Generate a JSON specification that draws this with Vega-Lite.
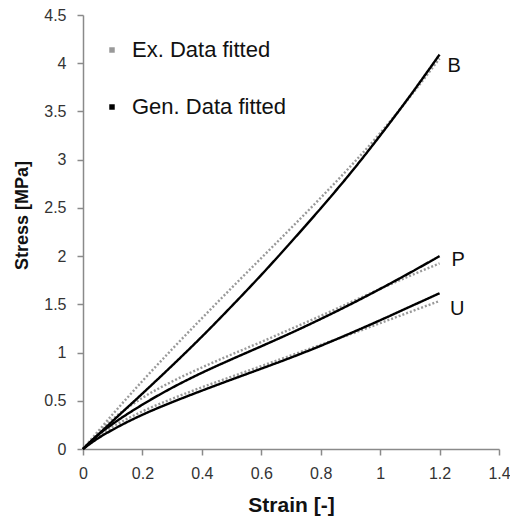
{
  "$schema": "https://vega.github.io/schema/vega-lite/v6.json",
  "width": 416,
  "height": 434,
  "autosize": {"type": "none"},
  "padding": {"left": 83, "top": 15, "right": 11, "bottom": 75},
  "background": "white",
  "config": {"view": {"stroke": null}, "font": "Liberation Sans"},
  "datasets": {
    "curves": [
      {"curve": "B", "type": "Ex. Data fitted", "x": 0, "y": 0},
      {"curve": "B", "type": "Ex. Data fitted", "x": 0.05, "y": 0.18},
      {"curve": "B", "type": "Ex. Data fitted", "x": 0.1, "y": 0.36},
      {"curve": "B", "type": "Ex. Data fitted", "x": 0.2, "y": 0.705},
      {"curve": "B", "type": "Ex. Data fitted", "x": 0.3, "y": 1.035},
      {"curve": "B", "type": "Ex. Data fitted", "x": 0.4, "y": 1.355},
      {"curve": "B", "type": "Ex. Data fitted", "x": 0.5, "y": 1.67},
      {"curve": "B", "type": "Ex. Data fitted", "x": 0.6, "y": 1.98},
      {"curve": "B", "type": "Ex. Data fitted", "x": 0.7, "y": 2.29},
      {"curve": "B", "type": "Ex. Data fitted", "x": 0.8, "y": 2.605},
      {"curve": "B", "type": "Ex. Data fitted", "x": 0.9, "y": 2.93},
      {"curve": "B", "type": "Ex. Data fitted", "x": 1.0, "y": 3.275},
      {"curve": "B", "type": "Ex. Data fitted", "x": 1.1, "y": 3.65},
      {"curve": "B", "type": "Ex. Data fitted", "x": 1.2, "y": 4.05},
      {"curve": "P", "type": "Ex. Data fitted", "x": 0, "y": 0},
      {"curve": "P", "type": "Ex. Data fitted", "x": 0.05, "y": 0.165},
      {"curve": "P", "type": "Ex. Data fitted", "x": 0.1, "y": 0.31},
      {"curve": "P", "type": "Ex. Data fitted", "x": 0.2, "y": 0.53},
      {"curve": "P", "type": "Ex. Data fitted", "x": 0.3, "y": 0.7},
      {"curve": "P", "type": "Ex. Data fitted", "x": 0.4, "y": 0.845},
      {"curve": "P", "type": "Ex. Data fitted", "x": 0.5, "y": 0.98},
      {"curve": "P", "type": "Ex. Data fitted", "x": 0.6, "y": 1.11},
      {"curve": "P", "type": "Ex. Data fitted", "x": 0.7, "y": 1.245},
      {"curve": "P", "type": "Ex. Data fitted", "x": 0.8, "y": 1.38},
      {"curve": "P", "type": "Ex. Data fitted", "x": 0.9, "y": 1.52},
      {"curve": "P", "type": "Ex. Data fitted", "x": 1.0, "y": 1.66},
      {"curve": "P", "type": "Ex. Data fitted", "x": 1.1, "y": 1.795},
      {"curve": "P", "type": "Ex. Data fitted", "x": 1.2, "y": 1.925},
      {"curve": "U", "type": "Ex. Data fitted", "x": 0, "y": 0},
      {"curve": "U", "type": "Ex. Data fitted", "x": 0.05, "y": 0.13},
      {"curve": "U", "type": "Ex. Data fitted", "x": 0.1, "y": 0.23},
      {"curve": "U", "type": "Ex. Data fitted", "x": 0.2, "y": 0.39},
      {"curve": "U", "type": "Ex. Data fitted", "x": 0.3, "y": 0.52},
      {"curve": "U", "type": "Ex. Data fitted", "x": 0.4, "y": 0.64},
      {"curve": "U", "type": "Ex. Data fitted", "x": 0.5, "y": 0.75},
      {"curve": "U", "type": "Ex. Data fitted", "x": 0.6, "y": 0.86},
      {"curve": "U", "type": "Ex. Data fitted", "x": 0.7, "y": 0.97},
      {"curve": "U", "type": "Ex. Data fitted", "x": 0.8, "y": 1.08},
      {"curve": "U", "type": "Ex. Data fitted", "x": 0.9, "y": 1.19},
      {"curve": "U", "type": "Ex. Data fitted", "x": 1.0, "y": 1.305},
      {"curve": "U", "type": "Ex. Data fitted", "x": 1.1, "y": 1.42},
      {"curve": "U", "type": "Ex. Data fitted", "x": 1.2, "y": 1.535},
      {"curve": "B", "type": "Gen. Data fitted", "x": 0, "y": 0},
      {"curve": "B", "type": "Gen. Data fitted", "x": 0.05, "y": 0.145},
      {"curve": "B", "type": "Gen. Data fitted", "x": 0.1, "y": 0.29},
      {"curve": "B", "type": "Gen. Data fitted", "x": 0.2, "y": 0.575},
      {"curve": "B", "type": "Gen. Data fitted", "x": 0.3, "y": 0.865},
      {"curve": "B", "type": "Gen. Data fitted", "x": 0.4, "y": 1.165},
      {"curve": "B", "type": "Gen. Data fitted", "x": 0.5, "y": 1.48},
      {"curve": "B", "type": "Gen. Data fitted", "x": 0.6, "y": 1.805},
      {"curve": "B", "type": "Gen. Data fitted", "x": 0.7, "y": 2.145},
      {"curve": "B", "type": "Gen. Data fitted", "x": 0.8, "y": 2.495},
      {"curve": "B", "type": "Gen. Data fitted", "x": 0.9, "y": 2.86},
      {"curve": "B", "type": "Gen. Data fitted", "x": 1.0, "y": 3.25},
      {"curve": "B", "type": "Gen. Data fitted", "x": 1.1, "y": 3.66},
      {"curve": "B", "type": "Gen. Data fitted", "x": 1.2, "y": 4.09},
      {"curve": "P", "type": "Gen. Data fitted", "x": 0, "y": 0},
      {"curve": "P", "type": "Gen. Data fitted", "x": 0.05, "y": 0.145},
      {"curve": "P", "type": "Gen. Data fitted", "x": 0.1, "y": 0.26},
      {"curve": "P", "type": "Gen. Data fitted", "x": 0.2, "y": 0.46},
      {"curve": "P", "type": "Gen. Data fitted", "x": 0.3, "y": 0.635},
      {"curve": "P", "type": "Gen. Data fitted", "x": 0.4, "y": 0.79},
      {"curve": "P", "type": "Gen. Data fitted", "x": 0.5, "y": 0.93},
      {"curve": "P", "type": "Gen. Data fitted", "x": 0.6, "y": 1.065},
      {"curve": "P", "type": "Gen. Data fitted", "x": 0.7, "y": 1.203},
      {"curve": "P", "type": "Gen. Data fitted", "x": 0.8, "y": 1.348},
      {"curve": "P", "type": "Gen. Data fitted", "x": 0.9, "y": 1.5},
      {"curve": "P", "type": "Gen. Data fitted", "x": 1.0, "y": 1.66},
      {"curve": "P", "type": "Gen. Data fitted", "x": 1.1, "y": 1.827},
      {"curve": "P", "type": "Gen. Data fitted", "x": 1.2, "y": 2.0},
      {"curve": "U", "type": "Gen. Data fitted", "x": 0, "y": 0},
      {"curve": "U", "type": "Gen. Data fitted", "x": 0.05, "y": 0.11},
      {"curve": "U", "type": "Gen. Data fitted", "x": 0.1, "y": 0.2},
      {"curve": "U", "type": "Gen. Data fitted", "x": 0.2, "y": 0.355},
      {"curve": "U", "type": "Gen. Data fitted", "x": 0.3, "y": 0.485},
      {"curve": "U", "type": "Gen. Data fitted", "x": 0.4, "y": 0.605},
      {"curve": "U", "type": "Gen. Data fitted", "x": 0.5, "y": 0.72},
      {"curve": "U", "type": "Gen. Data fitted", "x": 0.6, "y": 0.833},
      {"curve": "U", "type": "Gen. Data fitted", "x": 0.7, "y": 0.948},
      {"curve": "U", "type": "Gen. Data fitted", "x": 0.8, "y": 1.07},
      {"curve": "U", "type": "Gen. Data fitted", "x": 0.9, "y": 1.2},
      {"curve": "U", "type": "Gen. Data fitted", "x": 1.0, "y": 1.335},
      {"curve": "U", "type": "Gen. Data fitted", "x": 1.1, "y": 1.475},
      {"curve": "U", "type": "Gen. Data fitted", "x": 1.2, "y": 1.615}
    ],
    "labels": [
      {"label": "B", "x": 1.249, "y": 3.97},
      {"label": "P", "x": 1.263, "y": 1.96},
      {"label": "U", "x": 1.259, "y": 1.45}
    ]
  },
  "layer": [
    {
      "data": {"name": "curves"},
      "mark": {"type": "line", "interpolate": "monotone", "strokeWidth": 2.4},
      "encoding": {
        "x": {
          "field": "x", "type": "quantitative",
          "scale": {"domain": [0, 1.4], "nice": false},
          "axis": {
            "title": "Strain [-]", "values": [0, 0.2, 0.4, 0.6, 0.8, 1, 1.2, 1.4], "format": "~g",
            "grid": false, "labelFlush": false, "domainColor": "#8a8a8a", "domainWidth": 1.5, "tickColor": "#8a8a8a", "tickWidth": 1.5, "tickSize": 6,
            "labelFont": "Liberation Sans", "labelFontSize": 16, "labelColor": "#333333", "labelPadding": 10,
            "titleFont": "Liberation Sans", "titleFontSize": 21, "titleFontWeight": "bold", "titleColor": "#111111",
            "titleY": 56, "titleBaseline": "middle"
          }
        },
        "y": {
          "field": "y", "type": "quantitative",
          "scale": {"domain": [0, 4.5], "nice": false},
          "axis": {
            "title": "Stress [MPa]", "values": [0, 0.5, 1, 1.5, 2, 2.5, 3, 3.5, 4, 4.5], "format": "~g",
            "grid": false, "labelFlush": false, "domainColor": "#8a8a8a", "domainWidth": 1.5, "tickColor": "#8a8a8a", "tickWidth": 1.5, "tickSize": 6,
            "labelFont": "Liberation Sans", "labelFontSize": 16, "labelColor": "#333333", "labelPadding": 11,
            "titleFont": "Liberation Sans", "titleFontSize": 18, "titleFontWeight": "bold", "titleColor": "#111111",
            "titleX": -61, "titleY": 200, "titleBaseline": "middle", "titleAngle": -90
          }
        },
        "detail": {"field": "curve"},
        "color": {
          "field": "type", "type": "nominal",
          "scale": {"domain": ["Ex. Data fitted", "Gen. Data fitted"], "range": ["#999999", "#000000"]},
          "legend": {
            "title": null, "orient": "none", "legendX": 18, "legendY": 24,
            "symbolType": "square", "symbolSize": 30, "symbolStrokeWidth": 0,
            "labelFont": "Liberation Sans", "labelFontSize": 22, "labelColor": "#111111", "labelOffset": 9,
            "rowPadding": 35,
            "encode": {"symbols": {"update": {"fill": {"scale": "color", "field": "value"}, "stroke": {"value": "transparent"}}}}
          }
        },
        "strokeDash": {
          "field": "type", "type": "nominal",
          "scale": {"domain": ["Ex. Data fitted", "Gen. Data fitted"], "range": [[2, 2], [1, 0]]},
          "legend": null
        }
      }
    },
    {
      "data": {"name": "labels"},
      "mark": {"type": "text", "font": "Liberation Sans", "fontSize": 20, "align": "center", "baseline": "middle", "color": "#111111"},
      "encoding": {
        "x": {"field": "x", "type": "quantitative"},
        "y": {"field": "y", "type": "quantitative"},
        "text": {"field": "label"}
      }
    }
  ]
}
